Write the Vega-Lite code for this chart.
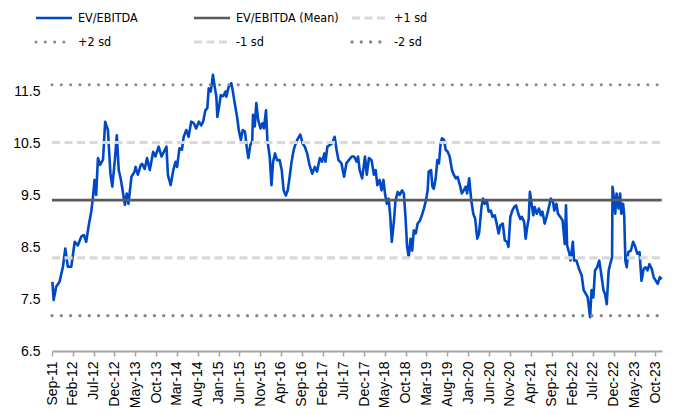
{
  "$schema": "https://vega.github.io/schema/vega-lite/v6.json",
  "width": 610,
  "height": 286,
  "autosize": {"type": "none"},
  "padding": {"left": 52, "top": 65, "right": 16, "bottom": 63},
  "config": {"view": {"stroke": null}, "font": "Liberation Sans"},
  "datasets": {
    "pe": [
      {"date":"2011-09-04","value":7.83},{"date":"2011-09-13","value":7.48},{"date":"2011-10-02","value":7.74},{"date":"2011-10-26","value":7.83},
      {"date":"2011-11-20","value":8.12},{"date":"2011-12-07","value":8.47},{"date":"2011-12-26","value":8.12},{"date":"2012-01-20","value":8.12},
      {"date":"2012-02-14","value":8.60},{"date":"2012-03-08","value":8.53},{"date":"2012-04-02","value":8.70},{"date":"2012-04-21","value":8.73},
      {"date":"2012-05-08","value":8.60},{"date":"2012-05-27","value":8.92},{"date":"2012-06-14","value":9.18},{"date":"2012-06-26","value":9.44},
      {"date":"2012-07-08","value":9.79},{"date":"2012-07-20","value":9.50},{"date":"2012-08-02","value":10.21},{"date":"2012-08-18","value":10.08},
      {"date":"2012-09-08","value":10.18},{"date":"2012-09-24","value":10.91},{"date":"2012-10-14","value":10.75},{"date":"2012-11-01","value":9.92},
      {"date":"2012-11-15","value":9.66},{"date":"2012-12-04","value":10.18},{"date":"2012-12-18","value":10.65},{"date":"2013-01-01","value":9.98},
      {"date":"2013-01-15","value":9.82},{"date":"2013-02-04","value":9.50},{"date":"2013-02-15","value":9.31},{"date":"2013-03-01","value":9.53},
      {"date":"2013-03-13","value":9.33},{"date":"2013-04-04","value":9.85},{"date":"2013-04-27","value":9.95},{"date":"2013-05-04","value":10.04},
      {"date":"2013-05-21","value":9.89},{"date":"2013-06-10","value":10.07},{"date":"2013-06-21","value":10.10},{"date":"2013-07-10","value":10.00},
      {"date":"2013-07-27","value":10.21},{"date":"2013-08-16","value":9.98},{"date":"2013-09-10","value":10.33},{"date":"2013-09-26","value":10.24},
      {"date":"2013-10-20","value":10.43},{"date":"2013-11-10","value":10.24},{"date":"2013-12-16","value":10.43},{"date":"2013-12-27","value":9.88},
      {"date":"2014-01-16","value":9.69},{"date":"2014-02-04","value":9.98},{"date":"2014-02-21","value":10.14},{"date":"2014-03-04","value":10.04},
      {"date":"2014-03-21","value":10.40},{"date":"2014-04-08","value":10.37},{"date":"2014-04-21","value":10.62},{"date":"2014-05-10","value":10.75},
      {"date":"2014-05-27","value":10.62},{"date":"2014-06-15","value":10.91},{"date":"2014-07-04","value":10.88},{"date":"2014-07-21","value":10.78},
      {"date":"2014-08-10","value":10.91},{"date":"2014-08-27","value":10.84},{"date":"2014-09-10","value":10.91},{"date":"2014-09-27","value":11.13},
      {"date":"2014-10-11","value":11.17},{"date":"2014-10-21","value":11.55},{"date":"2014-11-05","value":11.49},{"date":"2014-11-21","value":11.81},
      {"date":"2014-12-04","value":11.58},{"date":"2014-12-16","value":11.39},{"date":"2014-12-23","value":11.00},{"date":"2015-01-05","value":11.20},
      {"date":"2015-01-17","value":11.42},{"date":"2015-02-04","value":11.40},{"date":"2015-02-21","value":11.49},{"date":"2015-02-27","value":11.39},
      {"date":"2015-03-16","value":11.58},{"date":"2015-04-04","value":11.65},{"date":"2015-04-16","value":11.49},{"date":"2015-04-27","value":11.30},
      {"date":"2015-05-16","value":11.01},{"date":"2015-05-29","value":10.75},{"date":"2015-06-13","value":10.56},{"date":"2015-06-27","value":10.75},
      {"date":"2015-07-13","value":10.72},{"date":"2015-07-27","value":10.40},{"date":"2015-08-07","value":10.21},{"date":"2015-08-21","value":10.46},
      {"date":"2015-09-04","value":10.53},{"date":"2015-09-10","value":11.04},{"date":"2015-09-23","value":10.82},{"date":"2015-10-04","value":11.27},
      {"date":"2015-10-18","value":10.94},{"date":"2015-11-04","value":10.78},{"date":"2015-11-18","value":10.88},{"date":"2015-11-29","value":10.78},
      {"date":"2015-12-14","value":11.13},{"date":"2015-12-24","value":10.56},{"date":"2016-01-10","value":10.24},{"date":"2016-01-23","value":9.69},
      {"date":"2016-02-04","value":10.14},{"date":"2016-02-18","value":10.30},{"date":"2016-03-04","value":10.17},{"date":"2016-03-23","value":10.17},
      {"date":"2016-04-07","value":9.98},{"date":"2016-04-21","value":9.59},{"date":"2016-05-07","value":9.49},{"date":"2016-05-21","value":9.59},
      {"date":"2016-06-04","value":9.85},{"date":"2016-06-18","value":10.14},{"date":"2016-07-04","value":10.37},{"date":"2016-07-18","value":10.49},
      {"date":"2016-08-04","value":10.59},{"date":"2016-08-21","value":10.66},{"date":"2016-09-07","value":10.49},{"date":"2016-09-23","value":10.43},
      {"date":"2016-10-10","value":10.30},{"date":"2016-10-27","value":10.08},{"date":"2016-11-16","value":9.91},{"date":"2016-12-05","value":10.04},
      {"date":"2016-12-21","value":9.95},{"date":"2017-01-11","value":10.21},{"date":"2017-01-27","value":10.14},{"date":"2017-02-13","value":10.30},
      {"date":"2017-02-21","value":10.14},{"date":"2017-03-07","value":10.43},{"date":"2017-03-23","value":10.46},{"date":"2017-04-10","value":10.49},
      {"date":"2017-04-29","value":10.62},{"date":"2017-05-13","value":10.37},{"date":"2017-05-27","value":10.17},{"date":"2017-06-18","value":10.11},
      {"date":"2017-07-07","value":9.85},{"date":"2017-07-24","value":10.11},{"date":"2017-08-10","value":10.17},{"date":"2017-09-01","value":10.24},
      {"date":"2017-09-18","value":10.24},{"date":"2017-10-07","value":10.14},{"date":"2017-10-17","value":10.24},{"date":"2017-10-29","value":9.98},
      {"date":"2017-11-16","value":9.82},{"date":"2017-12-07","value":10.24},{"date":"2017-12-20","value":9.89},{"date":"2018-01-05","value":10.21},
      {"date":"2018-01-24","value":10.17},{"date":"2018-02-10","value":9.89},{"date":"2018-02-23","value":9.98},{"date":"2018-03-07","value":9.69},
      {"date":"2018-03-24","value":9.79},{"date":"2018-04-07","value":9.59},{"date":"2018-04-21","value":9.79},{"date":"2018-05-02","value":9.53},
      {"date":"2018-05-16","value":9.33},{"date":"2018-05-29","value":9.43},{"date":"2018-06-10","value":9.08},{"date":"2018-06-21","value":8.60},
      {"date":"2018-07-07","value":9.01},{"date":"2018-07-18","value":9.40},{"date":"2018-08-04","value":9.56},{"date":"2018-08-18","value":9.50},
      {"date":"2018-09-04","value":9.59},{"date":"2018-09-17","value":9.53},{"date":"2018-09-29","value":9.08},{"date":"2018-10-11","value":8.50},
      {"date":"2018-10-23","value":8.30},{"date":"2018-11-05","value":8.66},{"date":"2018-11-17","value":8.43},{"date":"2018-11-29","value":8.82},
      {"date":"2018-12-13","value":8.76},{"date":"2018-12-27","value":8.95},{"date":"2019-01-13","value":9.01},{"date":"2019-01-27","value":9.11},
      {"date":"2019-02-11","value":9.24},{"date":"2019-02-26","value":9.40},{"date":"2019-03-10","value":9.59},{"date":"2019-03-18","value":9.95},
      {"date":"2019-04-04","value":9.98},{"date":"2019-04-14","value":9.66},{"date":"2019-04-24","value":9.62},{"date":"2019-05-08","value":9.82},
      {"date":"2019-05-20","value":10.17},{"date":"2019-06-01","value":10.11},{"date":"2019-06-13","value":10.49},{"date":"2019-06-23","value":10.59},
      {"date":"2019-07-08","value":10.56},{"date":"2019-07-20","value":10.37},{"date":"2019-08-04","value":10.33},{"date":"2019-08-18","value":10.24},
      {"date":"2019-09-04","value":9.98},{"date":"2019-09-17","value":9.89},{"date":"2019-10-02","value":9.82},{"date":"2019-10-15","value":9.85},
      {"date":"2019-11-01","value":9.69},{"date":"2019-11-15","value":9.53},{"date":"2019-11-29","value":9.59},{"date":"2019-12-14","value":9.66},
      {"date":"2019-12-24","value":9.53},{"date":"2020-01-08","value":9.82},{"date":"2020-01-23","value":9.40},{"date":"2020-02-07","value":9.14},
      {"date":"2020-02-21","value":9.04},{"date":"2020-03-07","value":8.66},{"date":"2020-03-20","value":8.76},{"date":"2020-04-07","value":9.27},
      {"date":"2020-04-18","value":9.43},{"date":"2020-05-01","value":9.33},{"date":"2020-05-16","value":9.40},{"date":"2020-05-29","value":9.18},
      {"date":"2020-06-14","value":9.20},{"date":"2020-06-27","value":9.08},{"date":"2020-07-13","value":9.11},{"date":"2020-07-27","value":8.95},
      {"date":"2020-08-10","value":8.76},{"date":"2020-08-24","value":8.92},{"date":"2020-09-10","value":8.95},{"date":"2020-09-24","value":8.63},
      {"date":"2020-10-10","value":8.60},{"date":"2020-10-21","value":8.50},{"date":"2020-11-04","value":9.08},{"date":"2020-11-18","value":9.20},
      {"date":"2020-12-02","value":9.27},{"date":"2020-12-16","value":9.30},{"date":"2021-01-01","value":9.14},{"date":"2021-01-16","value":9.04},
      {"date":"2021-01-27","value":9.08},{"date":"2021-02-13","value":8.98},{"date":"2021-02-24","value":8.66},{"date":"2021-03-07","value":8.88},
      {"date":"2021-03-18","value":9.04},{"date":"2021-03-27","value":9.56},{"date":"2021-04-10","value":9.30},{"date":"2021-04-21","value":9.11},
      {"date":"2021-05-01","value":9.27},{"date":"2021-05-16","value":9.14},{"date":"2021-06-01","value":9.24},{"date":"2021-06-16","value":9.11},
      {"date":"2021-06-27","value":9.18},{"date":"2021-07-13","value":8.95},{"date":"2021-07-27","value":9.08},{"date":"2021-08-13","value":9.27},
      {"date":"2021-08-27","value":9.43},{"date":"2021-09-13","value":9.36},{"date":"2021-09-21","value":9.20},{"date":"2021-10-07","value":9.33},
      {"date":"2021-10-18","value":9.14},{"date":"2021-11-04","value":9.08},{"date":"2021-11-21","value":9.01},{"date":"2021-12-07","value":8.56},
      {"date":"2021-12-16","value":9.30},{"date":"2021-12-24","value":8.53},{"date":"2022-01-10","value":8.37},{"date":"2022-01-18","value":8.24},
      {"date":"2022-02-04","value":8.60},{"date":"2022-02-13","value":8.24},{"date":"2022-03-02","value":8.24},{"date":"2022-03-21","value":8.08},
      {"date":"2022-04-10","value":7.95},{"date":"2022-04-24","value":7.67},{"date":"2022-05-10","value":7.60},{"date":"2022-05-24","value":7.53},
      {"date":"2022-06-10","value":7.15},{"date":"2022-06-21","value":7.67},{"date":"2022-07-04","value":7.53},{"date":"2022-07-16","value":8.05},
      {"date":"2022-08-01","value":8.11},{"date":"2022-08-16","value":8.24},{"date":"2022-08-29","value":8.01},{"date":"2022-09-16","value":7.67},
      {"date":"2022-09-27","value":7.60},{"date":"2022-10-10","value":7.40},{"date":"2022-10-24","value":8.05},{"date":"2022-11-08","value":8.21},
      {"date":"2022-11-18","value":8.30},{"date":"2022-11-21","value":9.66},{"date":"2022-12-01","value":9.46},{"date":"2022-12-11","value":9.14},
      {"date":"2022-12-21","value":9.53},{"date":"2023-01-04","value":9.24},{"date":"2023-01-16","value":9.53},{"date":"2023-01-24","value":9.14},
      {"date":"2023-02-07","value":9.33},{"date":"2023-02-15","value":9.08},{"date":"2023-02-23","value":8.24},{"date":"2023-03-05","value":8.11},
      {"date":"2023-03-16","value":8.40},{"date":"2023-04-04","value":8.43},{"date":"2023-04-21","value":8.60},{"date":"2023-05-07","value":8.50},
      {"date":"2023-05-21","value":8.37},{"date":"2023-06-07","value":8.40},{"date":"2023-06-21","value":7.85},{"date":"2023-07-07","value":8.08},
      {"date":"2023-07-21","value":8.11},{"date":"2023-08-04","value":8.05},{"date":"2023-08-18","value":8.17},{"date":"2023-09-04","value":8.08},
      {"date":"2023-09-18","value":7.92},{"date":"2023-10-04","value":7.85},{"date":"2023-10-18","value":7.79},{"date":"2023-11-02","value":7.92},
      {"date":"2023-11-16","value":7.88}
    ],
    "bands": [
      {"date":"2011-09-01","value":9.40,"series":"EV/EBITDA (Mean)"},{"date":"2023-11-16","value":9.40,"series":"EV/EBITDA (Mean)"},
      {"date":"2011-09-01","value":10.51,"series":"+1 sd"},{"date":"2023-11-16","value":10.51,"series":"+1 sd"},
      {"date":"2011-09-01","value":8.29,"series":"-1 sd"},{"date":"2023-11-16","value":8.29,"series":"-1 sd"}
    ],
    "dots": [
      {"date":"2011-09-01","value":11.62,"series":"+2 sd"},{"date":"2023-11-16","value":11.62,"series":"+2 sd"},
      {"date":"2011-09-01","value":7.18,"series":"-2 sd"},{"date":"2023-11-16","value":7.18,"series":"-2 sd"}
    ]
  },
  "encoding": {
    "x": {
      "field": "date", "type": "temporal",
      "scale": {"type": "utc", "domain": [{"year": 2011, "month": 9, "date": 1, "utc": true}, {"year": 2023, "month": 11, "date": 18, "utc": true}]},
      "axis": {
        "values": [
          {"year":2011,"month":9,"date":1,"utc":true},{"year":2012,"month":2,"date":1,"utc":true},{"year":2012,"month":7,"date":1,"utc":true},
          {"year":2012,"month":12,"date":1,"utc":true},{"year":2013,"month":5,"date":1,"utc":true},{"year":2013,"month":10,"date":1,"utc":true},
          {"year":2014,"month":3,"date":1,"utc":true},{"year":2014,"month":8,"date":1,"utc":true},{"year":2015,"month":1,"date":1,"utc":true},
          {"year":2015,"month":6,"date":1,"utc":true},{"year":2015,"month":11,"date":1,"utc":true},{"year":2016,"month":4,"date":1,"utc":true},
          {"year":2016,"month":9,"date":1,"utc":true},{"year":2017,"month":2,"date":1,"utc":true},{"year":2017,"month":7,"date":1,"utc":true},
          {"year":2017,"month":12,"date":1,"utc":true},{"year":2018,"month":5,"date":1,"utc":true},{"year":2018,"month":10,"date":1,"utc":true},
          {"year":2019,"month":3,"date":1,"utc":true},{"year":2019,"month":8,"date":1,"utc":true},{"year":2020,"month":1,"date":1,"utc":true},
          {"year":2020,"month":6,"date":1,"utc":true},{"year":2020,"month":11,"date":1,"utc":true},{"year":2021,"month":4,"date":1,"utc":true},
          {"year":2021,"month":9,"date":1,"utc":true},{"year":2022,"month":2,"date":1,"utc":true},{"year":2022,"month":7,"date":1,"utc":true},
          {"year":2022,"month":12,"date":1,"utc":true},{"year":2023,"month":5,"date":1,"utc":true},{"year":2023,"month":10,"date":1,"utc":true}
        ],
        "format": "%b-%y", "labelAngle": -90, "labelFontSize": 14, "labelColor": "#000000",
        "labelOverlap": false, "labelFlush": false, "labelBound": false, "labelPadding": 5,
        "domainColor": "#A6A6A6", "domainWidth": 2, "tickColor": "#A6A6A6", "tickWidth": 1.5, "tickSize": 5,
        "grid": false, "title": null
      }
    },
    "y": {
      "field": "value", "type": "quantitative",
      "scale": {"domain": [6.5, 12], "nice": false, "zero": false},
      "axis": {
        "values": [6.5, 7.5, 8.5, 9.5, 10.5, 11.5], "format": ".1f",
        "domain": false, "ticks": false, "tickSize": 0, "grid": false,
        "labelPadding": 12, "labelFontSize": 14, "labelColor": "#000000", "title": null
      }
    },
    "color": {
      "field": "series", "type": "nominal",
      "scale": {
        "domain": ["EV/EBITDA", "EV/EBITDA (Mean)", "+1 sd", "+2 sd", "-1 sd", "-2 sd"],
        "range": ["#0049C6", "#5A5A5A", "#D9D9D9", "#888888", "#D9D9D9", "#888888"]
      },
      "legend": {
        "orient": "none", "direction": "horizontal", "legendX": -18, "legendY": -55, "columns": 3, "gridAlign": "all",
        "columnPadding": 11, "rowPadding": 8, "clipHeight": 16, "padding": 0,
        "symbolType": "stroke", "symbolSize": 1296, "labelOffset": 4, "labelLimit": 0,
        "labelFont": "DejaVu Sans Condensed", "labelFontSize": 12.5, "labelColor": "#000000", "title": null,
        "encoding": {"symbols": {"strokeCap": {"value": {"expr": "indexof(['+2 sd','-2 sd'], datum.value) >= 0 ? 'round' : 'butt'"}}}}
      }
    },
    "strokeDash": {
      "field": "series", "type": "nominal",
      "scale": {
        "domain": ["EV/EBITDA", "EV/EBITDA (Mean)", "+1 sd", "+2 sd", "-1 sd", "-2 sd"],
        "range": [[1, 0], [1, 0], [8, 4.5], [0.01, 9.3], [8, 4.5], [0.01, 9.3]]
      }
    },
    "strokeWidth": {
      "field": "series", "type": "ordinal",
      "scale": {
        "domain": ["EV/EBITDA", "EV/EBITDA (Mean)", "+1 sd", "+2 sd", "-1 sd", "-2 sd"],
        "range": [2.6, 3.3, 3.2, 4, 3.2, 4]
      }
    }
  },
  "layer": [
    {
      "data": {"name": "pe"},
      "mark": {"type": "line", "strokeJoin": "round"},
      "encoding": {
        "color": {"datum": "EV/EBITDA", "type": "nominal"},
        "strokeDash": {"datum": "EV/EBITDA", "type": "nominal"},
        "strokeWidth": {"datum": "EV/EBITDA", "type": "ordinal"}
      }
    },
    {
      "data": {"name": "bands"},
      "mark": {"type": "line", "strokeCap": "butt"},
      "encoding": {}
    },
    {
      "data": {"name": "dots"},
      "mark": {"type": "line", "strokeCap": "round"},
      "encoding": {}
    }
  ]
}
